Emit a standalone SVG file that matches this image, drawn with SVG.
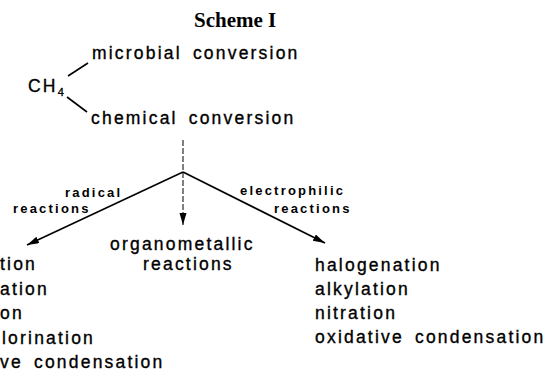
<svg xmlns="http://www.w3.org/2000/svg" width="548" height="374" viewBox="0 0 548 374">
<style>
.t{font-family:"Liberation Sans",Arial,sans-serif;font-size:17.5px;letter-spacing:2.2px;word-spacing:4px;fill:#000;stroke:#000;stroke-width:0.35px}
.s{font-family:"Liberation Sans",Arial,sans-serif;font-size:13px;font-weight:bold;letter-spacing:2.2px;fill:#000}
.title{font-family:"Liberation Serif","Times New Roman",serif;font-size:21px;font-weight:bold;fill:#000}
.ln{stroke:#000;stroke-width:1.6;fill:none}
</style>
<defs>
<marker id="ah" markerUnits="userSpaceOnUse" markerWidth="13" markerHeight="8" refX="12" refY="3.5" orient="auto">
<path d="M0,0 L12,3.5 L0,7 Z" fill="#000"/>
</marker>
</defs>
<text class="title" x="194" y="27">Scheme I</text>
<g id="ch4"><text class="t" x="28" y="92">CH<tspan font-size="11" dy="4">4</tspan></text></g>
<g id="microbial"><text class="t" x="92" y="59">microbial conversion</text></g>
<g id="chemical"><text class="t" x="91" y="124">chemical conversion</text></g>
<g id="radical-label"><text class="s" x="65" y="197">radical</text><text class="s" x="13" y="213">reactions</text></g>
<g id="electrophilic-label"><text class="s" x="240" y="195">electrophilic</text><text class="s" x="274" y="213">reactions</text></g>
<g id="organometallic"><text class="t" x="110" y="250">organometallic</text><text class="t" x="143" y="270">reactions</text></g>
<g id="electrophilic-list">
<text class="t" x="315" y="271">halogenation</text>
<text class="t" x="315" y="295">alkylation</text>
<text class="t" x="315" y="319">nitration</text>
<text class="t" x="315" y="343">oxidative  condensation</text>
</g>
<g id="radical-list">
<text class="t" x="0" y="270">tion</text>
<text class="t" x="0" y="295">ation</text>
<text class="t" x="0" y="319">on</text>
<text class="t" x="2" y="344">lorination</text>
<text class="t" x="0" y="368">ve condensation</text>
</g>
<g id="connectors">
<line class="ln" x1="68" y1="76" x2="88" y2="63"/>
<line class="ln" x1="67" y1="97" x2="87" y2="112"/>
<path d="M183,140 L183,225" stroke="#000" stroke-width="1" stroke-dasharray="6 2" fill="none" marker-end="url(#ah)"/>
<line class="ln" x1="183" y1="172" x2="27" y2="245" marker-end="url(#ah)"/>
<line class="ln" x1="183" y1="172" x2="325" y2="243" marker-end="url(#ah)"/>
</g>
</svg>
